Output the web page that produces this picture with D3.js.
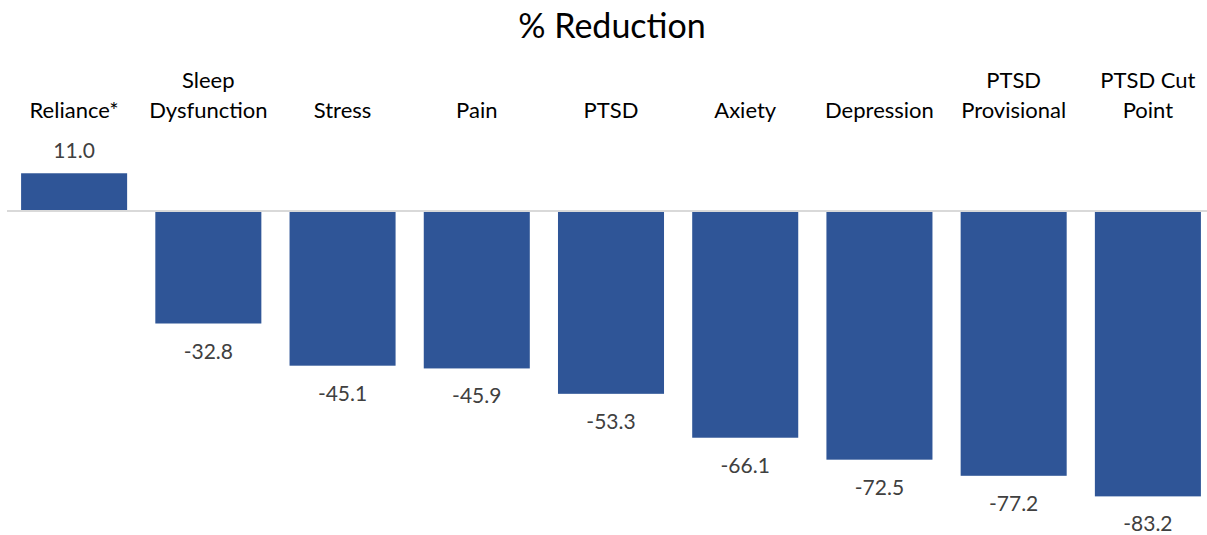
<!DOCTYPE html>
<html>
<head>
<meta charset="utf-8">
<script src="https://cdn.jsdelivr.net/npm/d3@7/dist/d3.min.js"></script>
<style>
  html, body { margin: 0; padding: 0; background: #ffffff; }
  svg { display: block; }
  text { font-family: Lato, "Open Sans", sans-serif; }
</style>
</head>
<body>
<svg id="chart" width="1207" height="535"></svg>
<script>
// Categories (label lines) and their percentage changes
const categories = [
  ["Reliance*"],
  ["Sleep", "Dysfunction"],
  ["Stress"],
  ["Pain"],
  ["PTSD"],
  ["Axiety"],
  ["Depression"],
  ["PTSD", "Provisional"],
  ["PTSD Cut", "Point"]
];
const values = [11.0, -32.8, -45.1, -45.9, -53.3, -66.1, -72.5, -77.2, -83.2];
const chartTitle = "% Reduction";

const svg = d3.select("#chart");
const keys = categories.map((c, i) => i);

const x = d3.scaleBand()
  .domain(keys)
  .range([7, 1215])
  .paddingInner(0.21)
  .paddingOuter(0.105);

const y = d3.scaleLinear()
  .domain([-90, 20])
  .range([211 + 90 * 3.43, 211 - 20 * 3.43]);

// Title
svg.append("text")
  .attr("x", 612)
  .attr("y", 38)
  .attr("text-anchor", "middle")
  .attr("font-size", 34)
  .attr("fill", "#000")
  .text(chartTitle);

// Category labels, bottom-aligned above the baseline
const catG = svg.append("g");
categories.forEach((lines, i) => {
  const t = catG.append("text")
    .attr("text-anchor", "middle")
    .attr("font-size", 22)
    .attr("fill", "#000");
  lines.forEach((ln, j) => {
    t.append("tspan")
      .attr("x", x(i) + x.bandwidth() / 2)
      .attr("y", 118 - (lines.length - 1 - j) * 30)
      .text(ln);
  });
});

// Bars
svg.append("g").selectAll("rect")
  .data(values)
  .join("rect")
  .attr("x", (d, i) => x(i))
  .attr("width", x.bandwidth())
  .attr("y", d => y(Math.max(0, d)))
  .attr("height", d => Math.abs(y(d) - y(0)))
  .attr("fill", "#2f5597");

// Zero line
svg.append("line")
  .attr("x1", 7)
  .attr("x2", 1207)
  .attr("y1", y(0))
  .attr("y2", y(0))
  .attr("stroke", "#d9d9d9")
  .attr("stroke-width", 2);

// Value labels
svg.append("g").selectAll("text")
  .data(values)
  .join("text")
  .attr("x", (d, i) => x(i) + x.bandwidth() / 2)
  .attr("y", d => d >= 0 ? y(d) - 15 : y(d) + 35)
  .attr("text-anchor", "middle")
  .attr("font-size", 21)
  .attr("fill", "#404040")
  .text(d => d.toFixed(1));
</script>
</body>
</html>
